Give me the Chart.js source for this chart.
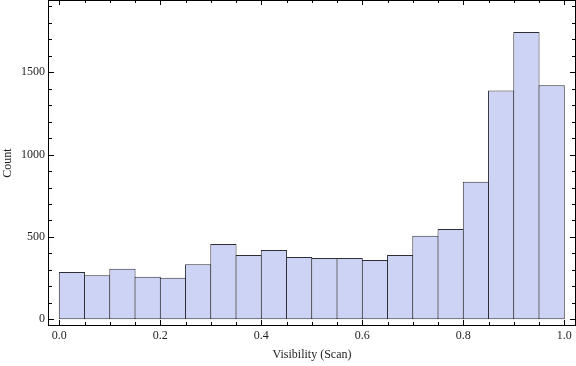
<!DOCTYPE html>
<html>
<head>
<meta charset="utf-8">
<script src="https://cdn.jsdelivr.net/npm/chart.js@4"></script>
<style>
  html, body { margin: 0; padding: 0; background: #fff; }
  #wrap { width: 576px; height: 366px; }
</style>
</head>
<body>
<div id="wrap"><canvas id="hist"></canvas></div>
<script>
// bin centres (bin width 0.05) and counts
var binCenters = [0.025, 0.075, 0.125, 0.175, 0.225, 0.275, 0.325, 0.375, 0.425, 0.475,
                  0.525, 0.575, 0.625, 0.675, 0.725, 0.775, 0.825, 0.875, 0.925, 0.975];
var counts = [287, 268, 307, 258, 252, 335, 457, 390, 421, 378,
              372, 372, 360, 390, 508, 549, 835, 1390, 1744, 1421];
var xTicks = [0, 0.05, 0.1, 0.15, 0.2, 0.25, 0.3, 0.35, 0.4, 0.45, 0.5,
              0.55, 0.6, 0.65, 0.7, 0.75, 0.8, 0.85, 0.9, 0.95, 1.0];
var yTicks = [0, 100, 200, 300, 400, 500, 600, 700, 800, 900, 1000,
              1100, 1200, 1300, 1400, 1500, 1600, 1700, 1800, 1900];

var serif = "'Liberation Serif', 'Times New Roman', serif";
var textColor = '#1e1e1e';

function isMajorX(v) { return Math.abs(v * 5 - Math.round(v * 5)) < 1e-9; }
function isMajorY(v) { return v % 500 === 0; }

// Mathematica-style frame with inward ticks on all four sides
var framePlugin = {
  id: 'frame',
  afterDatasetsDraw: function(chart) {
    var ctx = chart.ctx, a = chart.chartArea;
    var xs = chart.scales.x, ys = chart.scales.y;
    ctx.save();
    ctx.strokeStyle = '#000';
    ctx.lineWidth = 1;
    ctx.strokeRect(a.left + 0.5, a.top + 0.5, a.right - a.left - 1, a.bottom - a.top - 1);
    ctx.beginPath();
    xTicks.forEach(function(v) {
      var px = Math.round(xs.getPixelForValue(v)) + 0.5;
      var len = isMajorX(v) ? 5 : 3;
      ctx.moveTo(px, a.bottom - 1); ctx.lineTo(px, a.bottom - 1 - len);
      ctx.moveTo(px, a.top); ctx.lineTo(px, a.top + len);
    });
    yTicks.forEach(function(v) {
      var py = Math.round(ys.getPixelForValue(v)) + 0.5;
      var len = isMajorY(v) ? 5 : 3;
      ctx.moveTo(a.left + 1, py); ctx.lineTo(a.left + 1 + len, py);
      ctx.moveTo(a.right - 1, py); ctx.lineTo(a.right - 1 - len, py);
    });
    ctx.stroke();
    ctx.restore();
  }
};

var points = binCenters.map(function(c, i) { return { x: c, y: counts[i] }; });

new Chart(document.getElementById('hist'), {
  type: 'bar',
  data: {
    datasets: [{
      data: points,
      backgroundColor: 'rgb(204,211,244)',
      borderColor: '#2e2e36',
      borderWidth: 1,
      borderSkipped: false,
      inflateAmount: 0,
      barPercentage: 1.04,
      categoryPercentage: 1
    }]
  },
  plugins: [framePlugin],
  options: {
    responsive: true,
    maintainAspectRatio: false,
    animation: false,
    layout: { padding: 0 },
    plugins: { legend: { display: false }, tooltip: { enabled: false } },
    scales: {
      x: {
        type: 'linear',
        offset: false,
        min: -0.0224,
        max: 1.0232,
        grid: { display: false, drawTicks: false },
        border: { display: false },
        afterBuildTicks: function(s) { s.ticks = xTicks.map(function(v) { return { value: v }; }); },
        afterFit: function(s) { s.height = 40; s.paddingLeft = 0; s.paddingRight = 0; },
        ticks: {
          autoSkip: false,
          maxRotation: 0,
          padding: 3,
          color: textColor,
          font: { family: serif, size: 12 },
          callback: function(v) { return isMajorX(v) ? v.toFixed(1) : ''; }
        },
        title: {
          display: true,
          text: 'Visibility (Scan)',
          color: textColor,
          font: { family: serif, size: 12 },
          padding: { top: 0, bottom: 4 }
        }
      },
      y: {
        min: -40.7,
        max: 1939,
        grid: { display: false, drawTicks: false },
        border: { display: false },
        afterBuildTicks: function(s) { s.ticks = yTicks.map(function(v) { return { value: v }; }); },
        afterFit: function(s) { s.width = 48; s.paddingTop = 0; s.paddingBottom = 0; },
        ticks: {
          autoSkip: false,
          padding: 3,
          color: textColor,
          font: { family: serif, size: 12 },
          callback: function(v) { return isMajorY(v) ? String(v) : ''; }
        },
        title: {
          display: true,
          text: 'Count',
          color: textColor,
          font: { family: serif, size: 12 },
          padding: { top: 1, bottom: 0 }
        }
      }
    }
  }
});
</script>
</body>
</html>
